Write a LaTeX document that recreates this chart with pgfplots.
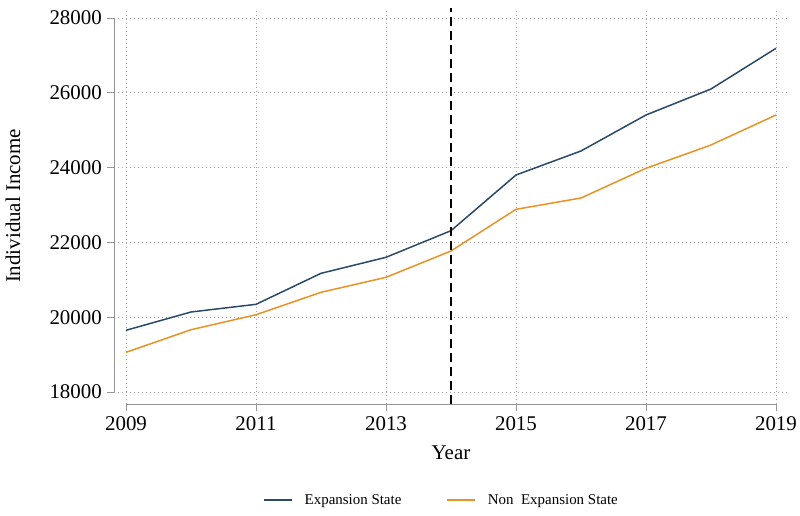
\documentclass[border=0pt]{standalone}
\usepackage{fontspec}
\setmainfont{Liberation Serif}
\usepackage{pgfplots}
\pgfplotsset{compat=1.18}
\definecolor{expblue}{RGB}{42,74,104}
\definecolor{nonorange}{RGB}{233,146,36}
\definecolor{axgray}{RGB}{150,150,150}
\definecolor{gridgray}{RGB}{165,165,165}
\begin{document}
\begin{tikzpicture}
\path[use as bounding box] (-114bp,-112bp) rectangle (686bp,404bp);
\begin{axis}[
  at={(0,0)}, anchor=south west,
  scale only axis, width=674bp, height=396bp,
  xmin=2008.815, xmax=2019.185,
  ymin=17679, ymax=28267,
  axis lines=left,
  axis line style={draw=none,-},
  xtick={2009,2011,2013,2015,2017,2019},
  ytick={18000,20000,22000,24000,26000,28000},
  scaled y ticks=false, scaled x ticks=false,
  tick align=outside,
  major tick length=7bp,
  tick style={axgray, line width=0.9bp},
  /pgf/number format/1000 sep={},
  /pgf/number format/assume math mode=true,
  ticklabel style={font=\fontsize{21}{24}\selectfont},
  xticklabel style={inner sep=5bp},
  yticklabel style={inner sep=5bp},
  grid=major,
  major grid style={gridgray, line width=0.7bp, dash pattern=on 0.8bp off 3.2bp},
  xlabel={Year},
  ylabel={Individual Income},
  label style={font=\fontsize{21}{24}\selectfont},
  xlabel style={at={(axis description cs:0.5,-0.1237)}, anchor=center},
  ylabel style={at={(axis description cs:-0.1499,0.5)}, anchor=center},
  legend columns=2,
  legend style={at={(axis description cs:0.2211,-0.2424)}, anchor=west,
    draw=none, fill=none, inner sep=0pt, font=\fontsize{15}{17}\selectfont,
    nodes={inner sep=0pt},
    /tikz/every odd column/.append style={column sep=12bp},
    /tikz/every even column/.append style={column sep=45bp}},
  legend cell align=left,
  legend image code/.code={\draw[#1] (0bp,0bp) -- (28bp,0bp);},
  clip=false,
]
\draw[axgray, line width=0.9bp] (axis cs:2008.815,18000) -- (axis cs:2008.815,28000);
\draw[axgray, line width=0.9bp] (axis cs:2009,17679) -- (axis cs:2019,17679);
\addplot[expblue, line width=1.5bp] coordinates {
(2009,19650) (2010,20139) (2011,20344) (2012,21173) (2013,21601)
(2014,22313) (2015,23802) (2016,24444) (2017,25406) (2018,26101) (2019,27189)};
\addlegendentry{Expansion State}
\addplot[nonorange, line width=1.5bp] coordinates {
(2009,19061) (2010,19665) (2011,20066) (2012,20665) (2013,21066)
(2014,21770) (2015,22884) (2016,23187) (2017,23981) (2018,24604) (2019,25406)};
\addlegendentry{Non\ \ Expansion State}
\draw[black, line width=1.2bp, dash pattern=on 9bp off 5bp] (axis cs:2014,17679) -- (axis cs:2014,28267);
\end{axis}
\end{tikzpicture}
\end{document}
